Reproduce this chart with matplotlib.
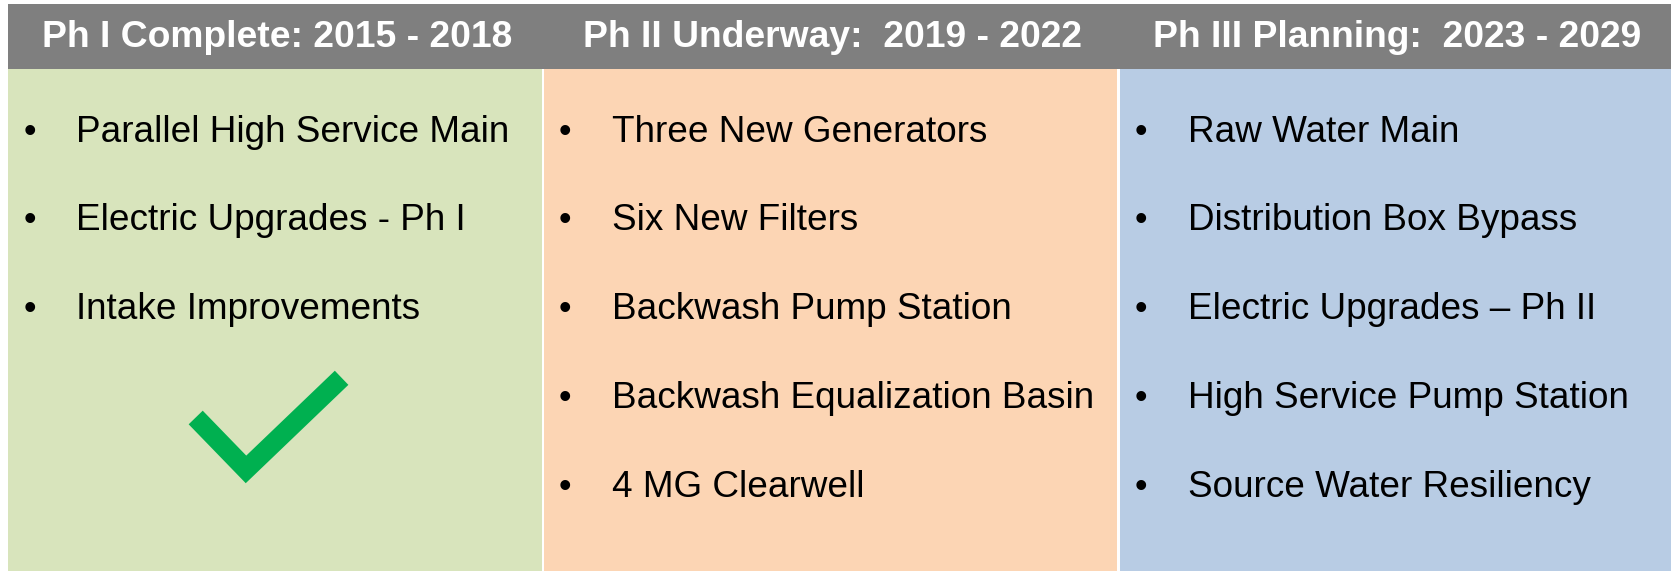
import matplotlib
matplotlib.use("Agg")
import matplotlib.pyplot as plt
from matplotlib.patches import Rectangle

# phase headers and their items
phase_titles = [
    "Ph I Complete: 2015 - 2018",
    "Ph II Underway:  2019 - 2022",
    "Ph III Planning:  2023 - 2029",
]
phase1_items = [
    "Parallel High Service Main",
    "Electric Upgrades - Ph I",
    "Intake Improvements",
]
phase2_items = [
    "Three New Generators",
    "Six New Filters",
    "Backwash Pump Station",
    "Backwash Equalization Basin",
    "4 MG Clearwell",
]
phase3_items = [
    "Raw Water Main",
    "Distribution Box Bypass",
    "Electric Upgrades \u2013 Ph II",
    "High Service Pump Station",
    "Source Water Resiliency",
]
phase_done = [True, False, False]
panel_colors = ["#D8E4BC", "#FCD5B4", "#B8CCE4"]

W, H = 1671, 572
header_color = "#7F7F7F"
check_color = "#00B050"

# column edges in pixels
col_left = [8.4, 544, 1120]
col_right = [541.5, 1117, 1671]
header_top, header_bot = 4, 69
panel_bot = 571
row_base0 = 141.7
row_step = 88.75

plt.rcParams["font.family"] = ["Liberation Sans", "DejaVu Sans"]

fig = plt.figure(figsize=(W / 100, H / 100), dpi=100, facecolor="white")
ax = fig.add_axes([0, 0, 1, 1])
ax.set_xlim(0, W)
ax.set_ylim(H, 0)
ax.axis("off")

# header band
ax.add_patch(Rectangle((col_left[0], header_top), W - col_left[0],
                       header_bot - header_top, color=header_color, lw=0))

all_items = [phase1_items, phase2_items, phase3_items]
for i, (title, items) in enumerate(zip(phase_titles, all_items)):
    x0, x1 = col_left[i], col_right[i]
    ax.add_patch(Rectangle((x0, header_bot), x1 - x0, panel_bot - header_bot,
                           color=panel_colors[i], lw=0))
    ax.text((x0 + x1) / 2 + 2, 47, title, ha="center", va="baseline",
            fontsize=26.8, fontweight="bold", color="white")
    for j, item in enumerate(items):
        yb = row_base0 + j * row_step
        ax.text(x0 + 21, yb, "\u2022", ha="center", va="baseline",
                fontsize=26, color="black")
        ax.text(x0 + 68, yb, item, ha="left", va="baseline",
                fontsize=26.6, color="black")

    # check mark under completed phase
    if phase_done[i]:
        cx = [x0 + 187.3, x0 + 237.6, x0 + 333.2]
        cy = [417.5, 469.4, 377.8]
        ax.plot(cx, cy, color=check_color, lw=14.1,
                solid_joinstyle="miter", solid_capstyle="butt")

fig.savefig("out.png", dpi=100, facecolor="white")
